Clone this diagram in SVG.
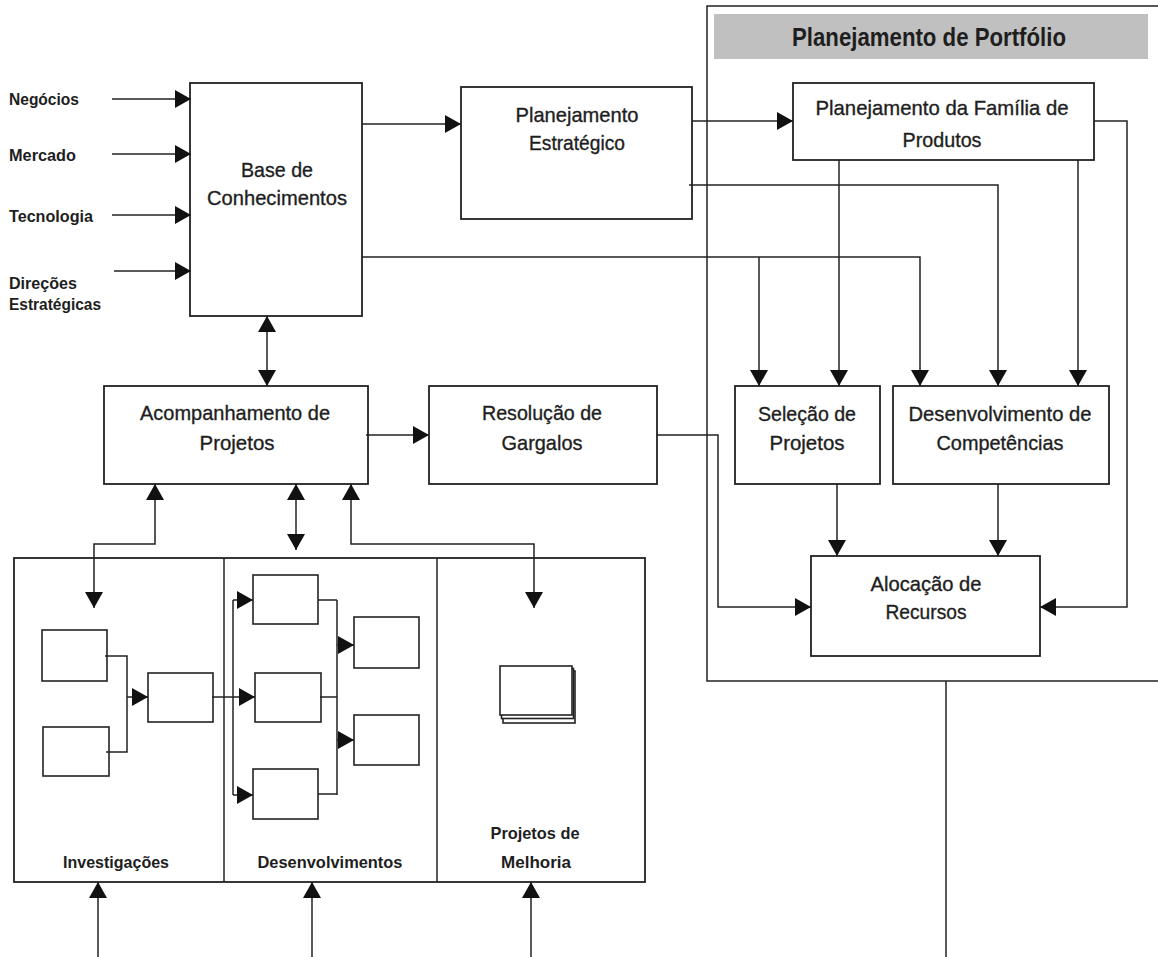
<svg xmlns="http://www.w3.org/2000/svg" width="1158" height="957" viewBox="0 0 1158 957">
<style>
.box{fill:#fff;stroke:#222;stroke-width:1.8}
.sm{fill:#fff;stroke:#222;stroke-width:1.6}
.ln{fill:none;stroke:#222;stroke-width:1.5}
.ar{marker-end:url(#ah)}
.ar2{marker-start:url(#ah);marker-end:url(#ah)}
text{font-family:"Liberation Sans",Arial,sans-serif;fill:#1e1e1e}
.t{font-size:21px;text-anchor:middle;stroke:#1e1e1e;stroke-width:0.35}
.l{font-size:17px;font-weight:bold}
.b{font-size:17px;font-weight:bold;text-anchor:middle}
</style>
<defs>
<marker id="ah" markerUnits="userSpaceOnUse" markerWidth="16" markerHeight="18" refX="16" refY="9" orient="auto-start-reverse" viewBox="0 0 16 18">
<path d="M0,0 L16,9 L0,18 z" fill="#111"/>
</marker>
</defs>
<rect width="1158" height="957" fill="#fff"/>

<g id="portfolio-frame">
<path class="ln" d="M1158,6 H707 V681 H1158" stroke-width="1.8"/>
<rect x="714" y="14" width="434" height="45" fill="#c0c0c0"/>
<text x="792" y="46" font-size="26" font-weight="bold" textLength="274" lengthAdjust="spacingAndGlyphs">Planejamento de Portfólio</text>
</g>

<g id="inputs">
<text class="l" x="9" y="105" textLength="70" lengthAdjust="spacingAndGlyphs">Negócios</text>
<text class="l" x="9" y="161" textLength="67" lengthAdjust="spacingAndGlyphs">Mercado</text>
<text class="l" x="9" y="222" textLength="84" lengthAdjust="spacingAndGlyphs">Tecnologia</text>
<text class="l" x="9" y="289" textLength="68" lengthAdjust="spacingAndGlyphs">Direções</text>
<text class="l" x="9" y="310" textLength="92" lengthAdjust="spacingAndGlyphs">Estratégicas</text>
</g>

<g id="base-conhecimentos">
<rect class="box" x="190" y="83" width="172" height="233"/>
<text class="t" x="277" y="177" textLength="72" lengthAdjust="spacingAndGlyphs">Base de</text>
<text class="t" x="277" y="205" textLength="140" lengthAdjust="spacingAndGlyphs">Conhecimentos</text>
</g>

<g id="planejamento-estrategico">
<rect class="box" x="461" y="87" width="231" height="132"/>
<text class="t" x="577" y="122" textLength="123" lengthAdjust="spacingAndGlyphs">Planejamento</text>
<text class="t" x="577" y="150" textLength="96" lengthAdjust="spacingAndGlyphs">Estratégico</text>
</g>

<g id="planejamento-familia">
<rect class="box" x="793" y="83" width="301" height="77"/>
<text class="t" x="942" y="115" textLength="253" lengthAdjust="spacingAndGlyphs">Planejamento da Família de</text>
<text class="t" x="942" y="147" textLength="79" lengthAdjust="spacingAndGlyphs">Produtos</text>
</g>

<g id="selecao-projetos">
<rect class="box" x="735" y="386" width="145" height="98"/>
<text class="t" x="807" y="421" textLength="98" lengthAdjust="spacingAndGlyphs">Seleção de</text>
<text class="t" x="807" y="450" textLength="75" lengthAdjust="spacingAndGlyphs">Projetos</text>
</g>

<g id="desenvolvimento-competencias">
<rect class="box" x="893" y="386" width="216" height="98"/>
<text class="t" x="1000" y="421" textLength="183" lengthAdjust="spacingAndGlyphs">Desenvolvimento de</text>
<text class="t" x="1000" y="450" textLength="127" lengthAdjust="spacingAndGlyphs">Competências</text>
</g>

<g id="alocacao-recursos">
<rect class="box" x="811" y="556" width="229" height="100"/>
<text class="t" x="926" y="591" textLength="111" lengthAdjust="spacingAndGlyphs">Alocação de</text>
<text class="t" x="926" y="619" textLength="81" lengthAdjust="spacingAndGlyphs">Recursos</text>
</g>

<g id="resolucao-gargalos">
<rect class="box" x="429" y="386" width="228" height="98"/>
<text class="t" x="542" y="420" textLength="120" lengthAdjust="spacingAndGlyphs">Resolução de</text>
<text class="t" x="542" y="450" textLength="81" lengthAdjust="spacingAndGlyphs">Gargalos</text>
</g>

<g id="acompanhamento-projetos">
<rect class="box" x="104" y="386" width="264" height="98"/>
<text class="t" x="235" y="420" textLength="190" lengthAdjust="spacingAndGlyphs">Acompanhamento de</text>
<text class="t" x="237" y="450" textLength="75" lengthAdjust="spacingAndGlyphs">Projetos</text>
</g>

<g id="projetos-area">
<rect class="box" x="14" y="558" width="631" height="324"/>
<line class="ln" x1="224" y1="558" x2="224" y2="882" stroke-width="1.8"/>
<line class="ln" x1="437" y1="558" x2="437" y2="882" stroke-width="1.8"/>
<text class="b" x="116" y="868" textLength="106" lengthAdjust="spacingAndGlyphs">Investigações</text>
<text class="b" x="330" y="868" textLength="145" lengthAdjust="spacingAndGlyphs">Desenvolvimentos</text>
<text class="b" x="535" y="839" textLength="89" lengthAdjust="spacingAndGlyphs">Projetos de</text>
<text class="b" x="536" y="868" textLength="70" lengthAdjust="spacingAndGlyphs">Melhoria</text>
</g>

<g id="investigacoes-fluxo">
<rect class="sm" x="42" y="630" width="65" height="51"/>
<rect class="sm" x="43" y="727" width="66" height="49"/>
<rect class="sm" x="148" y="673" width="65" height="49"/>
</g>

<g id="desenvolvimentos-fluxo">
<rect class="sm" x="253" y="575" width="65" height="49"/>
<rect class="sm" x="255" y="673" width="66" height="49"/>
<rect class="sm" x="253" y="769" width="65" height="50"/>
<rect class="sm" x="354" y="617" width="65" height="51"/>
<rect class="sm" x="354" y="715" width="65" height="50"/>
</g>

<g id="melhoria-documentos">
<rect class="sm" x="503" y="671" width="72" height="52" stroke-width="1.4"/>
<rect class="sm" x="501.5" y="668.5" width="72" height="50" stroke-width="1.4"/>
<rect class="sm" x="500" y="666" width="72" height="49" stroke-width="1.6"/>
</g>

<g id="connectors">
<path class="ln ar" d="M112,99 H191"/>
<path class="ln ar" d="M112,154 H191"/>
<path class="ln ar" d="M112,215 H191"/>
<path class="ln ar" d="M114,271 H191"/>
<path class="ln ar" d="M362,124 H461"/>
<path class="ln ar" d="M692,121 H793"/>
<path class="ln ar" d="M689,185 H998 V386"/>
<path class="ln ar" d="M362,257 H920 V386"/>
<path class="ln ar" d="M759,257 V386"/>
<path class="ln ar" d="M839,160 V386"/>
<path class="ln ar" d="M1078,160 V386"/>
<path class="ln ar" d="M1094,121 H1127 V607 H1040"/>
<path class="ln ar" d="M837,484 V556"/>
<path class="ln ar" d="M998,484 V556"/>
<path class="ln ar" d="M657,435 H718 V607 H811"/>
<path class="ln ar" d="M366,435 H429"/>
<path class="ln ar2" d="M267,316 V386"/>
<path class="ln ar2" d="M155,484 V544 H94 V608"/>
<path class="ln ar2" d="M296,484 V550"/>
<path class="ln ar2" d="M351,484 V544 H534 V608"/>
<path class="ln ar" d="M98,957 V882"/>
<path class="ln ar" d="M312,957 V882"/>
<path class="ln ar" d="M531,957 V882"/>
<path class="ln" d="M946,681 V957"/>
<path class="ln" d="M105,656 H127 V752 H106"/>
<path class="ln ar" d="M127,697 H148"/>
<path class="ln ar" d="M212,697 H255"/>
<path class="ln" d="M233,600 V795"/>
<path class="ln ar" d="M233,600 H253"/>
<path class="ln ar" d="M233,795 H253"/>
<path class="ln" d="M318,600 H337 M320,697 H337 M318,794 H337 M337,600 V795"/>
<path class="ln ar" d="M337,645 H354"/>
<path class="ln ar" d="M337,740 H354"/>
</g>
</svg>
